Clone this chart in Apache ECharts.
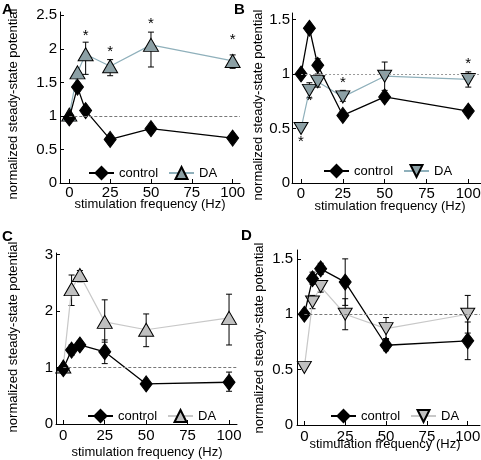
<!DOCTYPE html>
<html><head><meta charset="utf-8">
<script src="https://cdn.jsdelivr.net/npm/echarts@6/dist/echarts.min.js"></script>
<style>html,body{margin:0;padding:0;background:#fff}#c{width:481px;height:460px}</style>
</head><body><div id="c"></div>
<script>
// ---- data ----
const freqs = [0, 5, 10, 25, 50, 100];
const xTicks = [0, 25, 50, 75, 100];
const yTicksA = [0, 0.5, 1, 1.5, 2, 2.5];
const yTicksB = [0, 0.5, 1, 1.5];
const yTicksC = [0, 1, 2, 3];
const yTicksD = [0, 0.5, 1, 1.5];
const refLevel = 1;

const ctrlA = [0.97, 1.43, 1.08, 0.65, 0.81, 0.67];
const daA   = [1.02, 1.65, 1.92, 1.74, 2.06, 1.82];
const daErrLoA = [null, null, 1.62, 1.60, 1.73, 1.71];
const daErrHiA = [null, null, 2.10, 1.84, 2.25, 1.91];
const starXA = [10, 25, 50, 100];
const starYA = [2.20, 1.96, 2.38, 2.13];

const ctrlB = [1.00, 1.42, 1.08, 0.62, 0.79, 0.66];
const daB   = [0.50, 0.85, 0.93, 0.79, 0.98, 0.95];
const ctrlErrLoB = [null, null, 1.00, null, null, null];
const ctrlErrHiB = [null, null, 1.14, null, null, null];
const daErrLoB = [null, 0.78, 0.88, 0.75, 0.85, 0.88];
const daErrHiB = [null, 0.92, 0.98, 0.85, 1.11, 1.02];
const starXB = [0, 5, 25, 100];
const starYB = [0.38, 0.75, 0.92, 1.09];

const ctrlC = [0.98, 1.31, 1.40, 1.28, 0.71, 0.74];
const ctrlErrLoC = [null, 1.22, 1.32, 1.07, 0.66, 0.58];
const ctrlErrHiC = [null, 1.40, 1.48, 1.49, 0.76, 0.92];
const daC   = [1.02, 2.39, 2.64, 1.81, 1.67, 1.88];
const daErrLoC = [null, 2.10, 2.52, 1.45, 1.37, 1.40];
const daErrHiC = [null, 2.64, 2.72, 2.20, 1.95, 2.30];

const ctrlD = [1.00, 1.32, 1.41, 1.29, 0.72, 0.76];
const ctrlErrLoD = [null, 1.27, 1.36, 1.08, 0.67, 0.59];
const ctrlErrHiD = [null, 1.38, 1.46, 1.50, 0.77, 0.93];
const daD   = [0.52, 1.11, 1.25, 1.00, 0.87, 1.00];
const daErrLoD = [null, 1.05, 1.20, 0.86, 0.78, 0.83];
const daErrHiD = [null, 1.17, 1.30, 1.14, 0.97, 1.17];

const xTitle = 'stimulation frequency (Hz)';
const yTitle = 'normalized steady-state potential';
const legendNames = ['control', 'DA'];

// ---- helpers ----
const FONT = 'Liberation Sans, Arial, sans-serif';
const pairs = (ys) => freqs.map((f, i) => [f, ys[i]]);
const errPairs = (lo, hi) => freqs.map((f, i) => [f, lo[i], hi[i]]).filter(d => d[1] != null);
function errRender(params, api) {
  const x = api.value(0);
  const a = api.coord([x, api.value(1)]);
  const b = api.coord([x, api.value(2)]);
  const w = 3;
  const st = { stroke: '#000', lineWidth: 1 };
  return { type: 'group', children: [
    { type: 'line', shape: { x1: a[0], y1: a[1], x2: b[0], y2: b[1] }, style: st },
    { type: 'line', shape: { x1: a[0] - w, y1: a[1], x2: a[0] + w, y2: a[1] }, style: st },
    { type: 'line', shape: { x1: b[0] - w, y1: b[1], x2: b[0] + w, y2: b[1] }, style: st }
  ]};
}
function starRender(params, api) {
  const p = api.coord([api.value(0), api.value(1)]);
  return { type: 'text', x: p[0], y: p[1], style: { text: '*', font: '15px ' + FONT, fill: '#000', align: 'center', verticalAlign: 'middle' } };
}

const downTri = 'path://M0,0L10,0L5,9Z';

const panels = [
  { key: 'A', grid: { left: 60, top: 12, width: 180, height: 171 }, xmin: -5.7, xmax: 104.5, ymax: 2.55, yTicks: yTicksA,
    ctrl: ctrlA, da: daA, ctrlErr: null, daErr: [daErrLoA, daErrHiA], stars: [starXA, starYA],
    daSymbol: 'triangle', daSize: [15, 13], daFill: '#8ca0a5', daLine: '#8fb0bb', xMargin: 2, yMargin: 3,
    legend: { left: 83, top: 161 }, refDash: [3, 2], refColor: '#777' },
  { key: 'B', grid: { left: 292, top: 13, width: 189, height: 170 }, xmin: -5.4, xmax: 107.6, ymax: 1.56, yTicks: yTicksB,
    ctrl: ctrlB, da: daB, ctrlErr: [ctrlErrLoB, ctrlErrHiB], daErr: [daErrLoB, daErrHiB], stars: [starXB, starYB],
    daSymbol: downTri, daSize: [14, 12], daFill: '#8ca0a5', daLine: '#8fb0bb', xMargin: 3, yMargin: 2,
    legend: { left: 318, top: 159 }, refDash: [2, 2], refColor: '#999' },
  { key: 'C', grid: { left: 56, top: 253, width: 181, height: 171 }, xmin: -4.4, xmax: 104.8, ymax: 3.03, yTicks: yTicksC,
    ctrl: ctrlC, da: daC, ctrlErr: [ctrlErrLoC, ctrlErrHiC], daErr: [daErrLoC, daErrHiC], stars: null,
    daSymbol: 'triangle', daSize: [15, 13], daFill: '#c0c0c0', daLine: '#c8c8c8', xMargin: 4, yMargin: 3,
    legend: { left: 82, top: 404 }, refDash: [3, 2], refColor: '#777' },
  { key: 'D', grid: { left: 297, top: 250, width: 183, height: 175 }, xmin: -4.5, xmax: 107.5, ymax: 1.58, yTicks: yTicksD,
    ctrl: ctrlD, da: daD, ctrlErr: [ctrlErrLoD, ctrlErrHiD], daErr: [daErrLoD, daErrHiD], stars: null,
    daSymbol: downTri, daSize: [14, 12], daFill: '#c0c0c0', daLine: '#c8c8c8', xMargin: 4, yMargin: 4,
    legend: { left: 325, top: 404 }, refDash: [3, 2], refColor: '#777' }
];

const option = { animation: false, backgroundColor: '#fff', grid: [], xAxis: [], yAxis: [], series: [], legend: [], graphic: [] };

panels.forEach((p, i) => {
  option.grid.push(Object.assign({ outerBoundsMode: 'none', containLabel: false }, p.grid));
  option.xAxis.push({ gridIndex: i, type: 'value', min: p.xmin, max: p.xmax,
    axisLine: { show: true, onZero: false, lineStyle: { color: '#000', width: 1 } },
    axisTick: { show: true, inside: true, length: 4, customValues: xTicks, lineStyle: { color: '#000' } },
    axisLabel: { customValues: xTicks, fontSize: 15, fontFamily: FONT, color: '#000', margin: p.xMargin },
    splitLine: { show: false } });
  option.yAxis.push({ gridIndex: i, type: 'value', min: 0, max: p.ymax,
    axisLine: { show: true, onZero: false, lineStyle: { color: '#000', width: 1 } },
    axisTick: { show: true, inside: true, length: 4, customValues: p.yTicks, lineStyle: { color: '#000' } },
    axisLabel: { customValues: p.yTicks, fontSize: 15, fontFamily: FONT, color: '#000', margin: p.yMargin },
    splitLine: { show: false } });

  const cName = legendNames[0] + ' ' + p.key, dName = legendNames[1] + ' ' + p.key;
  if (p.ctrlErr) option.series.push({ type: 'custom', xAxisIndex: i, yAxisIndex: i, z: 1, renderItem: errRender,
    encode: { x: 0, y: [1, 2] }, data: errPairs(p.ctrlErr[0], p.ctrlErr[1]) });
  if (p.daErr) option.series.push({ type: 'custom', xAxisIndex: i, yAxisIndex: i, z: 1, renderItem: errRender,
    encode: { x: 0, y: [1, 2] }, data: errPairs(p.daErr[0], p.daErr[1]) });

  option.series.push({ name: dName, type: 'line', xAxisIndex: i, yAxisIndex: i, z: 2, data: pairs(p.da),
    symbol: p.daSymbol, symbolSize: p.daSize, showSymbol: true,
    lineStyle: { color: p.daLine, width: 1.2 },
    itemStyle: { color: p.daFill, borderColor: '#000', borderWidth: 1 } });
  option.series.push({ name: cName, type: 'line', xAxisIndex: i, yAxisIndex: i, z: 3, data: pairs(p.ctrl),
    symbol: 'diamond', symbolSize: [12, 16], showSymbol: true,
    lineStyle: { color: '#000', width: 1.3 },
    itemStyle: { color: '#000', borderColor: '#000', borderWidth: 1 },
    markLine: { silent: true, symbol: ['none', 'none'], label: { show: false }, animation: false,
      lineStyle: { type: p.refDash, color: p.refColor, width: 1 },
      data: [[{ coord: [0, refLevel] }, { coord: [p.xmax, refLevel] }]] } });
  if (p.stars) option.series.push({ type: 'custom', xAxisIndex: i, yAxisIndex: i, z: 4, renderItem: starRender,
    encode: { x: 0, y: 1 }, data: p.stars[0].map((x, k) => [x, p.stars[1][k]]) });

  option.legend.push({ left: p.legend.left, top: p.legend.top, orient: 'horizontal', itemWidth: 25, itemHeight: 15, itemGap: 10,
    selectedMode: false, data: [cName, dName], formatter: (n) => n.split(' ')[0],
    textStyle: { fontSize: 13, fontFamily: FONT, color: '#000' } });
});

// panel letters and axis titles
const letters = [['A', 2, 2], ['B', 234, 2], ['C', 2, 229], ['D', 241, 228]];
letters.forEach(l => option.graphic.push({ type: 'text', x: l[1], y: l[2],
  style: { text: l[0], font: 'bold 15px ' + FONT, fill: '#000', align: 'left', verticalAlign: 'top' } }));
const xTitlePos = [[150, 204], [390, 206], [147, 452], [385, 444]];
xTitlePos.forEach(t => option.graphic.push({ type: 'text', x: t[0], y: t[1],
  style: { text: xTitle, font: '13px ' + FONT, fill: '#000', align: 'center', verticalAlign: 'middle' } }));
const yTitlePos = [[13, 104], [258.5, 105], [13.5, 337], [259.5, 338]];
yTitlePos.forEach(t => option.graphic.push({ type: 'text', x: t[0], y: t[1], rotation: Math.PI / 2,
  style: { text: yTitle, font: '13px ' + FONT, fill: '#000', align: 'center', verticalAlign: 'middle' } }));

const chart = echarts.init(document.getElementById('c'), null, { renderer: 'canvas' });
chart.setOption(option);
</script>
</body></html>
